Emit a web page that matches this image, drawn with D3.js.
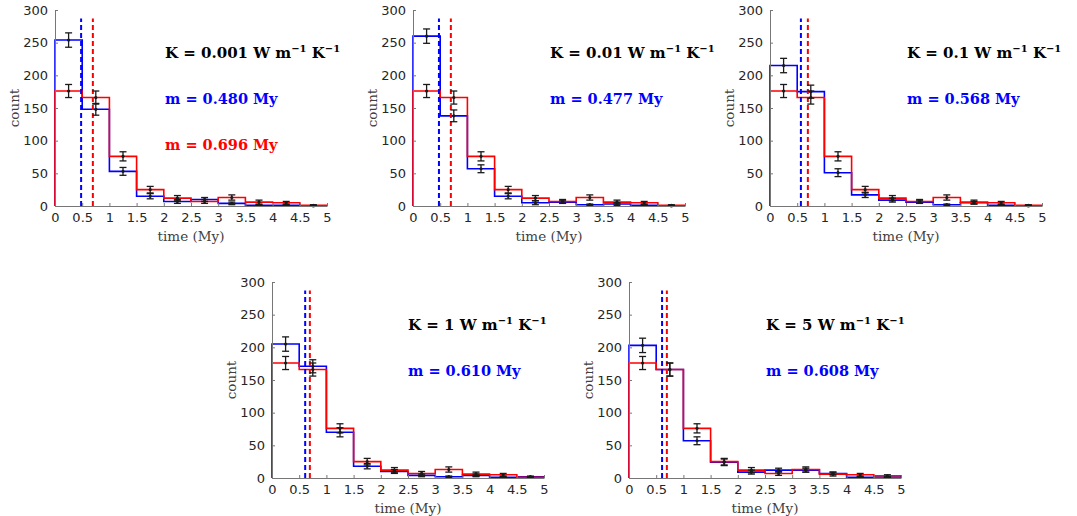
<!DOCTYPE html>
<html>
<head>
<meta charset="utf-8">
<script src="https://cdn.jsdelivr.net/npm/d3@7"></script>
<style>
  body { margin: 0; background: #fff; }
  .tick text { font-family: "DejaVu Sans", sans-serif; font-size: 13px; fill: #262626; }
  .domain, .tick line { stroke: #777; }
</style>
</head>
<body>
<svg id="chart" width="1077" height="516"></svg>
<script>
const blue = '#0000ff';
const red = '#ff0000';

// histogram bins and ticks
const binEdges = [0, 0.5, 1, 1.5, 2, 2.5, 3, 3.5, 4, 4.5, 5];
const xTicks = [0, 0.5, 1, 1.5, 2, 2.5, 3, 3.5, 4, 4.5, 5];
const yTicks = [0, 50, 100, 150, 200, 250, 300];

// panel labels
const kValues = ['0.001', '0.01', '0.1', '1', '5'];
const blueMedians = [0.480, 0.477, 0.568, 0.610, 0.608];
const redMedian = 0.696;

// reference (red) histogram, same in every panel
const redCounts = [176, 166, 76, 25, 12, 7, 13, 6, 5, 1];
const redErrors = [10, 10, 7, 5, 4, 3, 4, 3, 2, 1];

// blue histograms, one per panel
const blueCounts1 = [254, 148, 53, 15, 7, 10, 4, 1, 1, 0];
const blueErrors1 = [11, 9, 6, 4, 3, 3, 2, 1, 1, 0];
const blueCounts2 = [260, 138, 57, 15, 5, 6, 2, 3, 1, 0];
const blueErrors2 = [11, 9, 6, 4, 3, 2, 1, 2, 1, 0];
const blueCounts3 = [215, 175, 51, 17, 9, 6, 2, 5, 1, 0];
const blueErrors3 = [11, 10, 6, 4, 3, 2, 1, 2, 1, 0];
const blueCounts4 = [205, 171, 70, 18, 10, 4, 2, 4, 1, 2];
const blueErrors4 = [11, 10, 7, 4, 3, 2, 1, 2, 1, 1];
const blueCounts5 = [203, 166, 57, 24, 9, 12, 12, 7, 1, 3];
const blueErrors5 = [11, 10, 6, 5, 3, 3, 3, 2, 1, 2];

const blueCounts = [blueCounts1, blueCounts2, blueCounts3, blueCounts4, blueCounts5];
const blueErrors = [blueErrors1, blueErrors2, blueErrors3, blueErrors4, blueErrors5];

// layout of the five axes
const panels = [
    { left: 55,  top: 10,  textX: 110 },
    { left: 413, top: 10,  textX: 137 },
    { left: 770, top: 10,  textX: 137 },
    { left: 272, top: 282, textX: 136 },
    { left: 629, top: 282, textX: 137 }
];
const W = 272, H = 196;

const svg = d3.select('#chart');

function stairs(counts, x, y) {
    let pts = [[binEdges[0], 0]];
    counts.forEach((c, i) => {
        pts.push([binEdges[i], c]);
        pts.push([binEdges[i + 1], c]);
    });
    pts.push([binEdges[binEdges.length - 1], 0]);
    return d3.line().x(d => x(d[0])).y(d => y(d[1]))(pts);
}

function drawErrorBars(g, counts, errors, x, y) {
    counts.forEach((c, i) => {
        let cx = x((binEdges[i] + binEdges[i + 1]) / 2);
        let e = errors[i];
        let eb = g.append('g').attr('stroke', '#1a1a1a').attr('stroke-width', 1.3);
        eb.append('line').attr('x1', cx).attr('x2', cx).attr('y1', y(c - e)).attr('y2', y(c + e));
        eb.append('line').attr('x1', cx - 3.5).attr('x2', cx + 3.5).attr('y1', y(c - e)).attr('y2', y(c - e));
        eb.append('line').attr('x1', cx - 3.5).attr('x2', cx + 3.5).attr('y1', y(c + e)).attr('y2', y(c + e));
        g.append('circle').attr('cx', cx).attr('cy', y(c)).attr('r', 1.6).attr('fill', '#1a1a1a');
    });
}

function kLabel(sel, k) {
    sel.append('tspan').text(`K = ${k} W m`);
    sel.append('tspan').attr('dy', -6).attr('font-size', 10).text('\u22121');
    sel.append('tspan').attr('dy', 6).text(' K');
    sel.append('tspan').attr('dy', -6).attr('font-size', 10).text('\u22121');
}

panels.forEach((p, idx) => {
    let g = svg.append('g').attr('transform', `translate(${p.left},${p.top})`);
    let x = d3.scaleLinear().domain([0, 5]).range([0, W]);
    let y = d3.scaleLinear().domain([0, 300]).range([H, 0]);

    // histograms
    g.append('path').attr('d', stairs(blueCounts[idx], x, y))
        .attr('fill', 'none').attr('stroke', blue).attr('stroke-width', 1.6);
    g.append('path').attr('d', stairs(redCounts, x, y))
        .attr('fill', 'none').attr('stroke', red).attr('stroke-width', 1.6);

    // medians
    [[blueMedians[idx], blue], [redMedian, red]].forEach(([m, col]) => {
        g.append('line')
            .attr('x1', x(m)).attr('x2', x(m))
            .attr('y1', y(0)).attr('y2', y(287))
            .attr('stroke', col).attr('stroke-width', 2)
            .attr('stroke-dasharray', '5,3');
    });

    // error bars
    drawErrorBars(g, blueCounts[idx], blueErrors[idx], x, y);
    drawErrorBars(g, redCounts, redErrors, x, y);

    // axes
    g.append('g').attr('transform', `translate(0,${H})`)
        .call(d3.axisBottom(x).tickValues(xTicks).tickSize(-3).tickSizeOuter(0).tickPadding(7)
            .tickFormat(d3.format('')));
    g.append('g')
        .call(d3.axisLeft(y).tickValues(yTicks).tickSize(-3).tickSizeOuter(0).tickPadding(7));

    g.append('text')
        .attr('x', W / 2).attr('y', H + 35)
        .attr('text-anchor', 'middle')
        .attr('font-family', 'DejaVu Serif, serif').attr('font-size', 13.5).attr('fill', '#404040')
        .text('time (My)');
    g.append('text')
        .attr('transform', `translate(-36,${H / 2}) rotate(-90)`)
        .attr('text-anchor', 'middle')
        .attr('font-family', 'DejaVu Serif, serif').attr('font-size', 13.5).attr('fill', '#404040')
        .text('count');

    // annotations
    let t = g.append('text')
        .attr('x', p.textX).attr('y', 48)
        .attr('font-family', 'DejaVu Serif, serif').attr('font-weight', 'bold')
        .attr('font-size', 15).attr('fill', '#000');
    kLabel(t, kValues[idx]);
    g.append('text')
        .attr('x', p.textX).attr('y', 94)
        .attr('font-family', 'DejaVu Serif, serif').attr('font-weight', 'bold')
        .attr('font-size', 14.5).attr('fill', blue)
        .text(`m = ${blueMedians[idx].toFixed(3)} My`);
    if (idx === 0) {
        g.append('text')
            .attr('x', p.textX).attr('y', 140)
            .attr('font-family', 'DejaVu Serif, serif').attr('font-weight', 'bold')
            .attr('font-size', 14.5).attr('fill', red)
            .text(`m = ${redMedian.toFixed(3)} My`);
    }
});
</script>
</body>
</html>
